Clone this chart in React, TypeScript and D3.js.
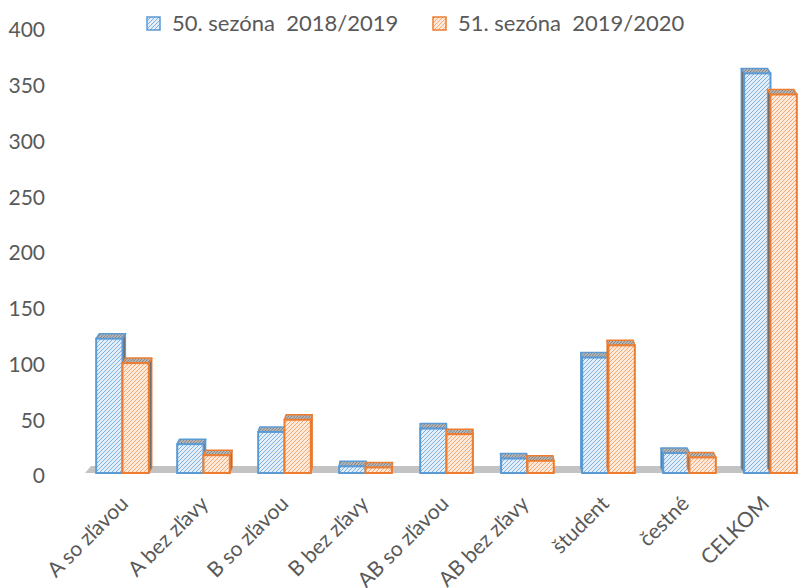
import React from "react";
import * as d3 from "d3";

// kategórie a hodnoty (odčítané z obrázka)
const categories = [
  "A so zľavou",
  "A bez zľavy",
  "B so zľavou",
  "B bez zľavy",
  "AB so zľavou",
  "AB bez zľavy",
  "študent",
  "čestné",
  "CELKOM",
];
const season50 = [121, 26, 37, 6, 40, 13, 104, 18, 360];
const season51 = [99, 16, 48, 5, 35, 11, 115, 14, 341];
const seriesNames = ["50. sezóna  2018/2019", "51. sezóna  2019/2020"];
const yTicks = [0, 50, 100, 150, 200, 250, 300, 350, 400];

const colors = [
  { stroke: "#5b9bd5", bg: "#e4eef9", line: "#7fb0e0" },
  { stroke: "#ed7d31", bg: "#fdeadd", line: "#f5a86f" },
];

const width = 798;
const height = 588;
const baseY = 473;
const depth = 5;

const App: React.FC = () => {
  const x = d3.scaleBand().domain(categories).range([82, 811]).paddingInner(0.35).paddingOuter(0.175);
  const xs = d3.scaleBand().domain(["0", "1"]).range([0, x.bandwidth()]).padding(0);
  const y = d3.scaleLinear().domain([0, 400]).range([baseY, 29]);
  const yLabel = d3.scaleLinear().domain([0, 400]).range([476, 30]);
  // posun hĺbky (perspektíva) podľa polohy kategórie
  const depthDx = d3.scaleLinear().domain([82, 811]).range([3.5, -3.5]);
  const labelDx = d3.scaleLinear().domain([0, categories.length - 1]).range([7, 0]);

  const series = [season50, season51];
  const font = "Lato, 'Open Sans', sans-serif";

  return (
    <svg
      width={width}
      height={height}
      style={{ position: "absolute", left: 0, top: 0, background: "#fff" }}
    >
      <defs>
        {colors.map((c, i) => (
          <pattern key={i} id={"hatch" + i} patternUnits="userSpaceOnUse" width={4} height={4}>
            <rect width={4} height={4} fill={c.bg} />
            <path d="M-1,1 l2,-2 M0,4 l4,-4 M3,5 l2,-2" stroke={c.line} strokeWidth={1} />
          </pattern>
        ))}
        <pattern id="hatchTop" patternUnits="userSpaceOnUse" width={3} height={3}>
          <rect width={3} height={3} fill="#b4b4b4" />
          <path d="M-1,1 l2,-2 M0,3 l3,-3 M2,4 l2,-2" stroke="#7f7f7f" strokeWidth={0.8} />
        </pattern>
      </defs>

      {/* podlaha */}
      <polygon
        points={`85,${baseY} 798,${baseY} 798,${baseY - 7} 91,${baseY - 7}`}
        fill="#c3c3c3"
      />

      {/* y os */}
      {yTicks.map((t) => (
        <text
          key={t}
          x={45}
          y={yLabel(t)}
          dy="0.35em"
          textAnchor="end"
          fontFamily={font}
          fontSize={21}
          fill="#595959"
        >
          {t}
        </text>
      ))}

      {/* stĺpce */}
      {categories.map((cat, ci) => {
        const x0 = x(cat) as number;
        const dx = depthDx(x0 + x.bandwidth() / 2);
        return (
          <g key={cat}>
            {series.map((vals, si) => {
              const bx = x0 + (xs(String(si)) as number);
              const bw = xs.bandwidth();
              const top = y(vals[ci]);
              const c = colors[si];
              const sideX = dx >= 0 ? bx + bw : bx;
              return (
                <g key={si}>
                  <polygon
                    points={`${sideX},${top} ${sideX + dx},${top - depth} ${sideX + dx},${baseY - depth} ${sideX},${baseY}`}
                    fill="#6f6f6f"
                    stroke={c.stroke}
                    strokeWidth={1}
                  />
                  <polygon
                    points={`${bx},${top} ${bx + bw},${top} ${bx + bw + dx},${top - depth} ${bx + dx},${top - depth}`}
                    fill="url(#hatchTop)"
                    stroke={c.stroke}
                    strokeWidth={1.5}
                    strokeLinejoin="round"
                  />
                  <rect
                    x={bx}
                    y={top}
                    width={bw}
                    height={baseY - top}
                    fill={`url(#hatch${si})`}
                    stroke={c.stroke}
                    strokeWidth={2}
                  />
                </g>
              );
            })}
          </g>
        );
      })}

      {/* popisy kategórií */}
      {categories.map((cat, ci) => {
        const cx = (x(cat) as number) + x.bandwidth() / 2 + labelDx(ci);
        return (
          <text
            key={cat}
            transform={`translate(${cx},505) rotate(-45)`}
            textAnchor="end"
            fontFamily={font}
            fontSize={21}
            fill="#595959"
          >
            {cat}
          </text>
        );
      })}

      {/* legenda */}
      {seriesNames.map((name, si) => {
        const lx = si === 0 ? 147 : 433;
        return (
          <g key={name}>
            <rect
              x={lx}
              y={17}
              width={13}
              height={13}
              fill={`url(#hatch${si})`}
              stroke={colors[si].stroke}
              strokeWidth={1.5}
            />
            <text
              x={lx + 25}
              y={23.5}
              dy="0.35em"
              fontFamily={font}
              fontSize={22}
              fill="#595959"
              style={{ whiteSpace: "pre" }}
            >
              {name}
            </text>
          </g>
        );
      })}
    </svg>
  );
};

export default App;
